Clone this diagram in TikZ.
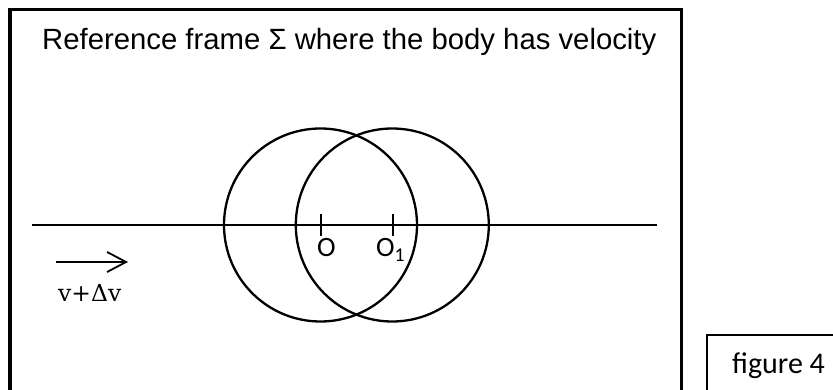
\documentclass[tikz,border=0pt]{standalone}
\usepackage{fontspec}
\setmainfont{Liberation Sans}
\newfontfamily\calib{Carlito}
\newfontfamily\serifx{DejaVu Serif}
\usetikzlibrary{arrows.meta}
\tikzset{
  frame/.style={line width=3.2pt},
  ring/.style={circle, draw, line width=2.3pt, minimum size=193pt, inner sep=0pt},
  axis/.style={line width=2pt},
  tick/.style={line width=1.8pt},
  lbl/.style={inner sep=0pt, anchor=base},
  velarrow/.style={line width=1.8pt, -{Straight Barb[length=19pt,width=20pt,line width=1.8pt]}},
}
\begin{document}
\begin{tikzpicture}[x=1pt,y=-1pt]
\useasboundingbox (0,0) rectangle (833,390);
\clip (0,0) rectangle (833,390);
% main frame
\draw[frame] (10,9.7) rectangle (681.5,420);
\node[lbl, anchor=base west] (title) at (42,50) {\fontsize{29.3}{33}\selectfont Reference frame Σ where the body has velocity};
% axis
\coordinate (axl) at (32,225);
\coordinate (axr) at (657,225);
\draw[axis] (axl) -- (axr);
% circles
\node[ring] (c1) at (320.5,225) {};
\node[ring] (c2) at (392.3,225) {};
% ticks
\draw[tick] (320.7,214) -- (320.7,236);
\draw[tick] (392.7,214) -- (392.7,236);
\node[lbl, anchor=base west] (o) at (317,257) {\calib\fontsize{28}{30}\selectfont O};
\node[lbl, anchor=base west] (o1) at (376,257) {\calib\fontsize{28}{30}\selectfont O\textsubscript{1}};
% velocity arrow
\coordinate (va) at (56,262);
\coordinate (vb) at (128,262);
\draw[velarrow] (va) -- (vb);
\node[lbl, anchor=base west] (vel) at (58,301.5) {\serifx\fontsize{23.5}{28}\selectfont v+Δv};
% figure label box
\draw[line width=1.3pt] (707,335) rectangle (860,420);
\node[lbl, anchor=base west] (fig) at (732,373) {\calib\fontsize{30}{34}\selectfont figure 4};
\end{tikzpicture}
\end{document}
